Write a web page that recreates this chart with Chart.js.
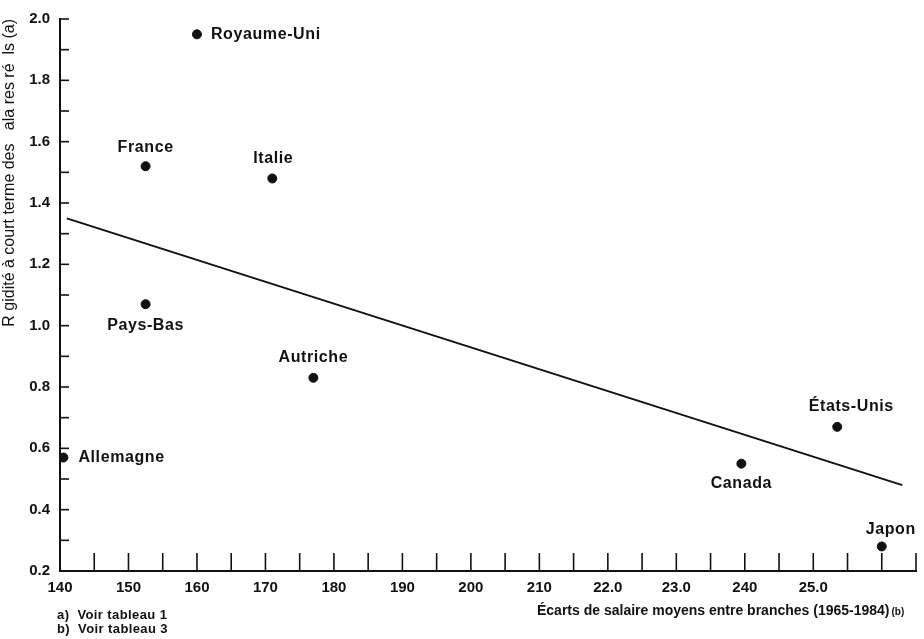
<!DOCTYPE html>
<html>
<head>
<meta charset="utf-8">
<script src="https://cdn.jsdelivr.net/npm/chart.js@4/dist/chart.umd.min.js"></script>
<style>
  html, body { margin: 0; padding: 0; background: #fff; }
</style>
</head>
<body>
<canvas id="rigidityChart" width="924" height="639"></canvas>
<script>
const countries = ["Allemagne", "France", "Pays-Bas", "Royaume-Uni", "Italie", "Autriche", "Canada", "États-Unis", "Japon"];
const wageGaps = [140.5, 152.5, 152.5, 160, 171, 177, 239.5, 253.5, 260];
const rigidity = [0.57, 1.52, 1.07, 1.95, 1.48, 0.83, 0.55, 0.67, 0.28];
const trendX = [141, 263];
const trendY = [1.35, 0.48];
const xTickLabels = ["140", "150", "160", "170", "180", "190", "200", "210", "22.0", "23.0", "240", "25.0"];
const yTickLabels = ["0.2", "0.4", "0.6", "0.8", "1.0", "1.2", "1.4", "1.6", "1.8", "2.0"];

// where each country name sits relative to its dot
const labelSpots = {
  "Allemagne": ["right", 15, 0],
  "France": ["center", 0, -19],
  "Pays-Bas": ["center", 0, 21],
  "Royaume-Uni": ["right", 14, 0],
  "Italie": ["center", 1, -20],
  "Autriche": ["center", 0, -20],
  "Canada": ["center", 0, 20],
  "États-Unis": ["center", 14, -20],
  "Japon": ["center", 9, -17],
};

const ink = "#111";
const family = "'Liberation Sans', Arial, sans-serif";

const marks = {
  id: "marks",
  afterDraw(chart) {
    const { ctx, chartArea, scales } = chart;
    ctx.save();
    ctx.strokeStyle = ink;
    ctx.lineWidth = 1.6;
    // inward tick marks
    scales.x.ticks.forEach((t) => {
      if (Math.abs(t.value % 5) > 0.01 || t.value <= 140) return;
      const px = scales.x.getPixelForValue(t.value);
      ctx.beginPath();
      ctx.moveTo(px, chartArea.bottom);
      ctx.lineTo(px, chartArea.bottom - 18);
      ctx.stroke();
    });
    scales.y.ticks.forEach((t) => {
      if (t.value < 0.25) return;
      const py = scales.y.getPixelForValue(t.value);
      ctx.beginPath();
      ctx.moveTo(chartArea.left, py);
      ctx.lineTo(chartArea.left + 9, py);
      ctx.stroke();
    });

    // country names
    ctx.fillStyle = ink;
    ctx.font = "bold 16px " + family;
    ctx.letterSpacing = "0.6px";
    ctx.textBaseline = "middle";
    const meta = chart.getDatasetMeta(0);
    meta.data.forEach((pt, i) => {
      const [side, dx, dy] = labelSpots[countries[i]];
      ctx.textAlign = side === "right" ? "left" : "center";
      ctx.fillText(countries[i], pt.x + dx, pt.y + dy);
    });

    // x axis title, with a smaller note mark
    ctx.textAlign = "left";
    ctx.font = "bold 14px " + family;
    ctx.letterSpacing = "0px";
    const xt = "Écarts de salaire moyens entre branches (1965-1984)";
    ctx.fillText(xt, 537, 611);
    const w = ctx.measureText(xt).width;
    ctx.font = "bold 10px " + family;
    ctx.fillText("(b)", 537 + w + 2, 612);

    // footnotes
    ctx.font = "bold 13px " + family;
    ctx.letterSpacing = "0.4px";
    ctx.fillText("a)  Voir tableau 1", 57, 615);
    ctx.fillText("b)  Voir tableau 3", 57, 629);
    ctx.restore();
  },
};

new Chart(document.getElementById("rigidityChart"), {
  type: "scatter",
  data: {
    datasets: [
      {
        data: wageGaps.map((x, i) => ({ x, y: rigidity[i] })),
        backgroundColor: ink,
        borderColor: ink,
        pointRadius: 4.5,
      },
      {
        type: "line",
        data: trendX.map((x, i) => ({ x, y: trendY[i] })),
        borderColor: ink,
        borderWidth: 2,
        pointRadius: 0,
        fill: false,
      },
    ],
  },
  plugins: [marks],
  options: {
    responsive: false,
    animation: false,
    layout: { padding: { top: 14, right: 1, left: 0, bottom: 0 } },
    plugins: {
      legend: { display: false },
      tooltip: { enabled: false },
    },
    scales: {
      x: {
        type: "linear",
        min: 140,
        max: 265,
        afterFit: (s) => { s.height = 68; },
        border: { display: true, color: ink, width: 2 },
        grid: { drawOnChartArea: false, drawTicks: false },
        ticks: {
          stepSize: 5,
          autoSkip: false,
          maxRotation: 0,
          padding: 8,
          color: ink,
          font: { family: family, size: 15, weight: "bold" },
          callback: (v) => (v % 10 === 0 ? xTickLabels[(v - 140) / 10] || "" : ""),
        },
      },
      y: {
        min: 0.2,
        max: 2.0,
        afterFit: (s) => { s.width = 60; },
        border: { display: true, color: ink, width: 2 },
        grid: { drawOnChartArea: false, drawTicks: false },
        ticks: {
          stepSize: 0.1,
          autoSkip: false,
          padding: 10,
          color: ink,
          font: { family: family, size: 15, weight: "bold" },
          callback: (v) => {
            const k = Math.round(v * 10);
            return k % 2 === 0 ? yTickLabels[(k - 2) / 2] : "";
          },
        },
        title: {
          display: true,
          align: "end",
          text: "R gidité à court terme des   ala res ré  ls (a)",
          color: ink,
          font: { family: family, size: 16 },
          padding: { top: 0, bottom: 0 },
        },
      },
    },
  },
});
</script>
</body>
</html>
